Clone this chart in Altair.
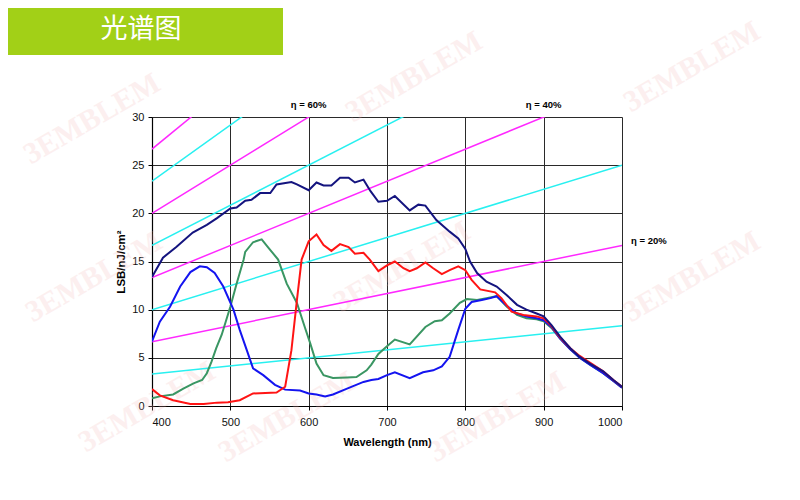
import altair as alt
import pandas as pd

# ---- measured curves (wavelength nm, LSB/nJ/cm2) ----
navy_wl = [400, 414, 431, 452, 470, 483, 500, 508, 519, 527, 538, 551, 559, 578, 585, 600, 610, 619, 629, 640,
           651, 659, 670, 679, 689, 700, 710, 729, 740, 749, 763, 780, 791, 800, 806, 815, 827, 840, 853, 866,
           878, 891, 900, 910, 921, 934, 946, 959, 976, 989, 1000]
navy_v = [13.4, 15.4, 16.5, 18.0, 18.8, 19.5, 20.5, 20.6, 21.3, 21.4, 22.1, 22.1, 23.0, 23.25, 23.0, 22.4, 23.2, 22.9, 22.9, 23.7,
          23.7, 23.2, 23.5, 22.3, 21.2, 21.3, 21.8, 20.3, 20.9, 20.8, 19.3, 18.1, 17.4, 16.3, 15.0, 13.8, 12.9, 12.4, 11.5, 10.5,
          10.0, 9.6, 9.3, 8.4, 7.2, 6.0, 5.1, 4.4, 3.6, 2.7, 2.0]

blue_wl = [400, 410, 423, 436, 449, 461, 470, 480, 491, 504, 512, 521, 529, 542, 557, 570, 589, 600, 610, 621,
           631, 649, 670, 680, 689, 700, 710, 729, 746, 759, 770, 780, 791, 800, 808, 821, 832, 840, 853, 866,
           878, 891, 900, 910, 921, 934, 946, 959, 976, 989, 1000]
blue_v = [6.7, 8.75, 10.3, 12.4, 13.9, 14.5, 14.4, 13.8, 12.4, 10.0, 7.9, 5.8, 3.9, 3.2, 2.2, 1.7, 1.6, 1.3, 1.2, 1.0,
          1.2, 1.8, 2.5, 2.7, 2.8, 3.2, 3.5, 2.9, 3.5, 3.7, 4.1, 5.1, 7.9, 10.1, 10.8, 11.0, 11.2, 11.4, 10.4, 9.6,
          9.3, 9.1, 8.9, 8.2, 7.0, 5.9, 5.0, 4.3, 3.4, 2.6, 1.9]

green_wl = [400, 410, 427, 440, 453, 464, 470, 476, 482, 489, 500, 508, 517, 519, 529, 540, 549, 561, 572, 585,
            595, 602, 610, 619, 631, 649, 661, 674, 680, 689, 700, 710, 729, 749, 761, 770, 780, 793, 802, 815,
            827, 840, 853, 866, 878, 891, 900, 910, 921, 934, 946, 959, 976, 989, 1000]
green_v = [0.8, 1.0, 1.2, 1.8, 2.35, 2.7, 3.4, 4.6, 6.0, 7.4, 10.3, 12.7, 15.2, 16.0, 17.0, 17.3, 16.4, 15.2, 12.7, 10.7,
           8.2, 6.5, 4.4, 3.2, 2.9, 2.95, 3.0, 3.7, 4.3, 5.4, 6.2, 6.9, 6.4, 8.2, 8.8, 8.9, 9.6, 10.7, 11.1, 11.0,
           11.2, 11.4, 10.3, 9.45, 9.1, 9.0, 8.8, 8.1, 7.0, 5.9, 5.0, 4.3, 3.4, 2.6, 1.9]

red_wl = [400, 410, 427, 449, 466, 483, 497, 512, 529, 559, 570, 578, 585, 591, 600, 610, 619, 629, 640, 651,
          659, 670, 678, 689, 700, 710, 721, 729, 738, 749, 759, 770, 780, 791, 800, 808, 819, 838, 846, 859,
          874, 891, 900, 910, 921, 934, 946, 959, 976, 989, 1000]
red_v = [1.75, 1.1, 0.6, 0.2, 0.2, 0.35, 0.4, 0.6, 1.3, 1.4, 2.0, 5.8, 11.0, 15.2, 17.1, 17.8, 16.7, 16.1, 16.8, 16.5,
         15.8, 15.9, 15.2, 14.0, 14.6, 15.0, 14.3, 14.0, 14.3, 14.9, 14.3, 13.7, 14.1, 14.5, 14.1, 13.1, 12.1, 11.8, 11.2, 9.8,
         9.45, 9.3, 9.1, 8.3, 7.1, 6.0, 5.2, 4.5, 3.6, 2.7, 2.0]

# ---- quantum-efficiency reference lines (value at 400 nm and at 1000 nm) ----
eta_names = ["80%", "70%", "60%", "50%", "40%", "30%", "20%", "10%"]
eta_kind = ["magenta", "cyan", "magenta", "cyan", "magenta", "cyan", "magenta", "cyan"]
eta_v400 = [26.67, 23.33, 20.0, 16.67, 13.33, 10.0, 6.67, 3.33]
eta_v1000 = [66.67, 58.33, 50.0, 41.67, 33.33, 25.0, 16.67, 8.33]

eta_labels = ["η = 60%", "η = 40%", "η = 20%"]
eta_label_wl = [600, 900, 1000]
eta_label_v = [30, 30, 16.67]

x_ticks = [400, 500, 600, 700, 800, 900, 1000]
y_ticks = [0, 5, 10, 15, 20, 25, 30]

watermark_text = "3EMBLEM"
wm_x = [-60, 262, 540, -58, 250, 540, -5, 135, 345]
wm_y = [2, -40, -50, 160, 150, 160, 290, 300, 300]

FONT = "Liberation Sans"

rows = []
for name, wl, v in [("green", green_wl, green_v), ("blue", blue_wl, blue_v),
                    ("red", red_wl, red_v), ("navy", navy_wl, navy_v)]:
    for a, b in zip(wl, v):
        rows.append({"wl": a, "v": b, "kind": name})
curves = pd.DataFrame(rows)

erows = []
for n, k, a, b in zip(eta_names, eta_kind, eta_v400, eta_v1000):
    erows.append({"wl": 400, "v": a, "kind": k, "eta": n})
    erows.append({"wl": 1000, "v": b, "kind": k, "eta": n})
etas = pd.DataFrame(erows)

labels = pd.DataFrame({"wl": eta_label_wl, "v": eta_label_v, "t": eta_labels})
wm = pd.DataFrame({"px": wm_x, "py": wm_y, "t": [watermark_text] * len(wm_x)})

kinds = ["navy", "blue", "red", "green", "magenta", "cyan"]
kind_colors = ["#14147f", "#1414f0", "#ff1414", "#3a9663", "#ff28ff", "#28f0f0"]

xs = alt.Scale(domain=[400, 1000], nice=False)
ys = alt.Scale(domain=[0, 30], nice=False)
cs = alt.Scale(domain=kinds, range=kind_colors)

x_axis = alt.Axis(values=x_ticks, title="Wavelength (nm)", titleFont=FONT, titleFontSize=11,
                  titleFontWeight="bold", titlePadding=9, labelFont=FONT, labelFontSize=11,
                  labelPadding=6, format="d")
y_axis = alt.Axis(values=y_ticks, title="LSB/nJ/cm²", titleFont=FONT, titleFontSize=11.5,
                  titleFontWeight="bold", titlePadding=5, labelFont=FONT, labelFontSize=11,
                  labelPadding=4)

banner = alt.Chart(pd.DataFrame({"a": [0]})).mark_rect(color="#a2d017").encode(
    x=alt.value(-144), x2=alt.value(131), y=alt.value(-109), y2=alt.value(-62))
banner_text = alt.Chart(pd.DataFrame({"t": ["光谱图"]})).mark_text(
    font="Noto Sans CJK SC", fontSize=27, color="white", align="center", baseline="middle").encode(
    x=alt.value(-11), y=alt.value(-87), text="t:N")

watermarks = alt.Chart(wm).mark_text(
    font="Liberation Serif", fontWeight="bold", fontSize=30, angle=330, color="#f2b8b8",
    opacity=0.22, align="center", baseline="middle").encode(
    x=alt.X("px:Q", scale=None), y=alt.Y("py:Q", scale=None), text="t:N")

eta_layer = alt.Chart(etas).mark_line(strokeWidth=1.5, clip=True).encode(
    x=alt.X("wl:Q", scale=xs, axis=x_axis),
    y=alt.Y("v:Q", scale=ys, axis=y_axis),
    color=alt.Color("kind:N", scale=cs, legend=None),
    detail="eta:N")

curve_layer = alt.Chart(curves).mark_line(strokeWidth=2, clip=True).encode(
    x=alt.X("wl:Q", scale=xs, axis=x_axis),
    y=alt.Y("v:Q", scale=ys, axis=y_axis),
    color=alt.Color("kind:N", scale=cs, legend=None),
    detail="kind:N",
    order=alt.Order("wl:Q"))

label_top = alt.Chart(labels.iloc[:2]).mark_text(
    font=FONT, fontSize=9.5, fontWeight="bold", color="black", align="center", baseline="middle", dy=-12).encode(
    x=alt.X("wl:Q", scale=xs), y=alt.Y("v:Q", scale=ys), text="t:N")
label_side = alt.Chart(labels.iloc[2:]).mark_text(
    font=FONT, fontSize=9.5, fontWeight="bold", color="black", align="left", baseline="middle", dx=9, dy=-4).encode(
    x=alt.X("wl:Q", scale=xs), y=alt.Y("v:Q", scale=ys), text="t:N")

chart = alt.layer(banner, banner_text, watermarks, eta_layer, curve_layer, label_top, label_side).properties(
    width=470, height=289,
    autosize=alt.AutoSizeParams(type="none"),
    padding={"left": 144, "top": 109, "right": 170, "bottom": 78},
    background="white",
).configure_view(stroke=None).configure_axis(
    grid=True, gridColor="#2a2a2a", gridOpacity=1, gridWidth=1,
    domainColor="#000000", domainWidth=1.2, tickColor="#000000", tickSize=4,
    labelColor="#111111", titleColor="#000000",
)

chart.save("out.html", embed_options={"renderer": "svg", "actions": False})
